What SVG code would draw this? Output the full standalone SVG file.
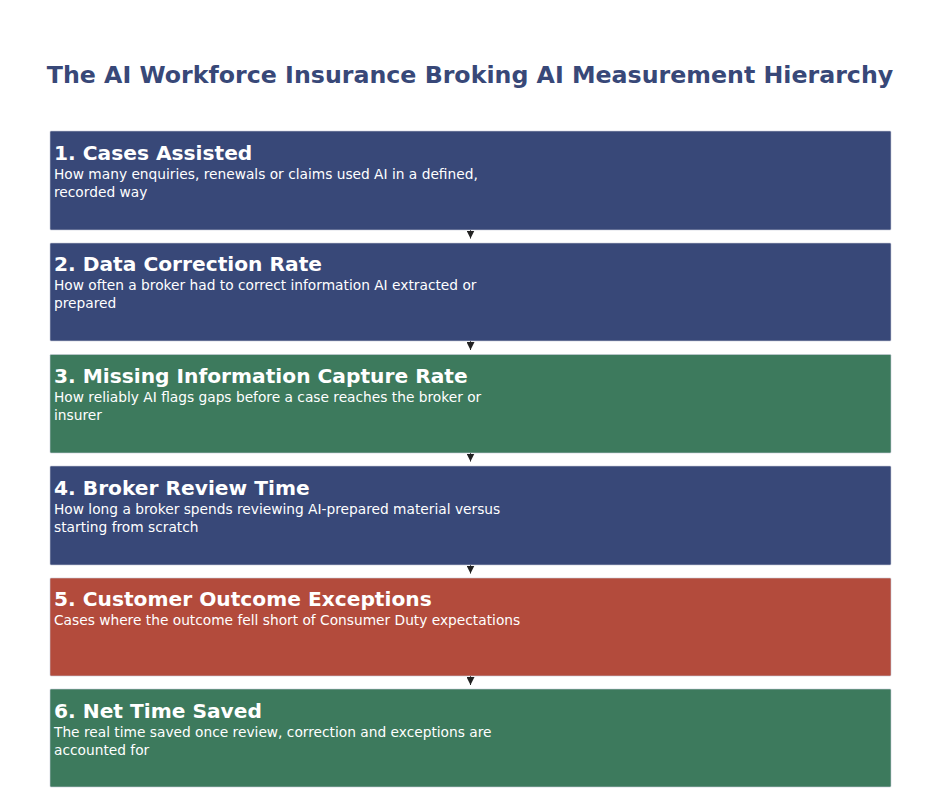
<svg xmlns="http://www.w3.org/2000/svg" width="941" height="812" viewBox="0 0 941 812">
<style>
.title{font-family:"DejaVu Sans",sans-serif;font-weight:bold;font-size:23.7px;fill:#384878;}
.box{stroke:#c8ccd8;stroke-width:1;stroke-opacity:0.6;}
.blue{fill:#384878;}
.green{fill:#3d7a5d;}
.red{fill:#b34b3c;}
.h{font-family:"DejaVu Sans",sans-serif;font-weight:bold;font-size:20.2px;fill:#ffffff;}
.d{font-family:"DejaVu Sans",sans-serif;font-size:13.75px;fill:#ffffff;}
.conn{stroke:#222222;stroke-width:1;fill:none;}
</style>
<defs>
<marker id="arr" markerWidth="8" markerHeight="8" refX="8" refY="4" orient="auto" markerUnits="userSpaceOnUse">
<path d="M0,0 L8,4 L0,8 Z" fill="#222222"/>
</marker>
</defs>
<rect width="941" height="812" fill="#ffffff"/>
<text class="title" x="470" y="83" text-anchor="middle">The AI Workforce Insurance Broking AI Measurement Hierarchy</text>
<g id="connectors">
<line class="conn" x1="470.5" y1="230" x2="470.5" y2="238.5" marker-end="url(#arr)"/>
<line class="conn" x1="470.5" y1="341" x2="470.5" y2="350" marker-end="url(#arr)"/>
<line class="conn" x1="470.5" y1="453" x2="470.5" y2="461.5" marker-end="url(#arr)"/>
<line class="conn" x1="470.5" y1="565" x2="470.5" y2="573.5" marker-end="url(#arr)"/>
<line class="conn" x1="470.5" y1="676" x2="470.5" y2="685" marker-end="url(#arr)"/>
</g>
<g id="node1">
<rect class="box blue" x="50" y="131" width="841" height="99" rx="1"/>
<text class="h" x="54" y="160">1. Cases Assisted</text>
<text class="d" x="54" y="179">How many enquiries, renewals or claims used AI in a defined,</text>
<text class="d" x="54" y="197">recorded way</text>
</g>
<g id="node2">
<rect class="box blue" x="50" y="243" width="841" height="98" rx="1"/>
<text class="h" x="54" y="271">2. Data Correction Rate</text>
<text class="d" x="54" y="290">How often a broker had to correct information AI extracted or</text>
<text class="d" x="54" y="308">prepared</text>
</g>
<g id="node3">
<rect class="box green" x="50" y="354.5" width="841" height="98.5" rx="1"/>
<text class="h" x="54" y="383">3. Missing Information Capture Rate</text>
<text class="d" x="54" y="402">How reliably AI flags gaps before a case reaches the broker or</text>
<text class="d" x="54" y="420">insurer</text>
</g>
<g id="node4">
<rect class="box blue" x="50" y="466" width="841" height="99" rx="1"/>
<text class="h" x="54" y="495">4. Broker Review Time</text>
<text class="d" x="54" y="514">How long a broker spends reviewing AI-prepared material versus</text>
<text class="d" x="54" y="532">starting from scratch</text>
</g>
<g id="node5">
<rect class="box red" x="50" y="578" width="841" height="98" rx="1"/>
<text class="h" x="54" y="606">5. Customer Outcome Exceptions</text>
<text class="d" x="54" y="625">Cases where the outcome fell short of Consumer Duty expectations</text>
</g>
<g id="node6">
<rect class="box green" x="50" y="689" width="841" height="98" rx="1"/>
<text class="h" x="54" y="718">6. Net Time Saved</text>
<text class="d" x="54" y="737">The real time saved once review, correction and exceptions are</text>
<text class="d" x="54" y="755">accounted for</text>
</g>
</svg>
